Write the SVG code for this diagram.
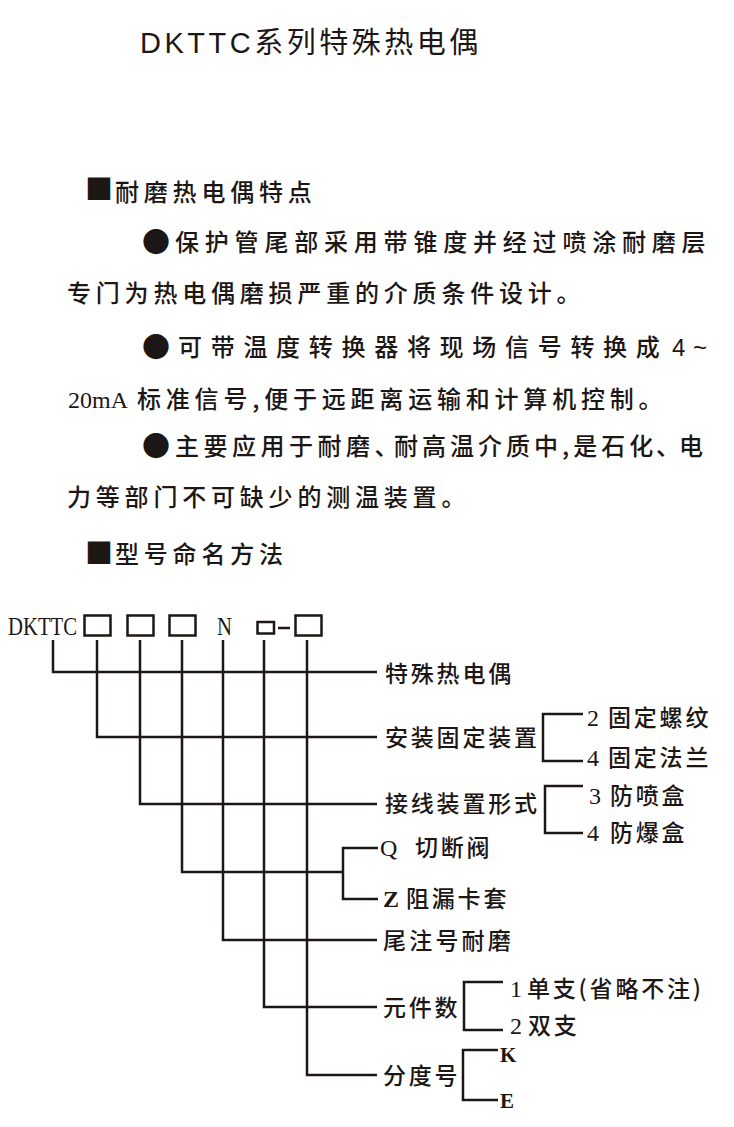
<svg xmlns="http://www.w3.org/2000/svg" width="734" height="1127" viewBox="0 0 734 1127">
<style>
.bg{fill:#ffffff}
.t{fill:#1c1715}
.cjk{font-family:"Noto Sans CJK SC","Noto Sans",sans-serif;font-size:23px;font-weight:500}
.p{font-size:24px}
.par{letter-spacing:4.8px}
.mk{font-size:28px;letter-spacing:0}
.lab{letter-spacing:2.8px}
.ser{font-family:"Liberation Serif","Noto Sans CJK SC",serif;font-size:24px}
.sans{font-family:"Liberation Sans","Noto Sans CJK SC",sans-serif}
.ln{fill:none;stroke:#1c1715;stroke-width:2.5;stroke-linecap:butt;stroke-linejoin:miter}
.box{fill:none;stroke:#1c1715;stroke-width:2.5}
</style>
<rect class="bg" x="0" y="0" width="734" height="1127"/>

<g id="title">
<text class="t sans" x="140" y="53" font-size="29" letter-spacing="3.5">DKTTC系列特殊热电偶</text>
</g>

<g id="features">
<text class="t cjk p"><tspan class="mk" x="85" y="200">■</tspan><tspan class="par" x="115" y="201">耐磨热电偶特点</tspan></text>
<text class="t cjk p"><tspan class="mk" x="142" y="253">●</tspan><tspan x="175" y="251" letter-spacing="5.8">保护管尾部采用带锥度并经过喷涂耐磨层</tspan></text>
<text class="t cjk p par" x="67" y="302">专门为热电偶磨损严重的介质条件设计。</text>
<text class="t cjk p"><tspan class="mk" x="142" y="358">●</tspan><tspan x="178" y="356" letter-spacing="8.7">可带温度转换器将现场信号转换成</tspan><tspan class="sans" x="672" y="356">4</tspan><tspan class="sans" x="693" y="356">~</tspan></text>
<text class="t" x="68" y="408"><tspan class="ser">20mA</tspan><tspan class="cjk p par" x="137">标准信号,便于远距离运输和计算机控制。</tspan></text>
<text class="t cjk p"><tspan class="mk" x="142" y="457">●</tspan><tspan x="175" y="455" letter-spacing="4.5">主要应用于耐磨、</tspan><tspan x="394" y="455" letter-spacing="4">耐高温介质中,是石化</tspan><tspan x="656" y="455">、</tspan><tspan x="679" y="455">电</tspan></text>
<text class="t cjk p par" x="67" y="506">力等部门不可缺少的测温装置。</text>
</g>

<g id="naming-heading">
<text class="t cjk p"><tspan class="mk" x="85" y="564">■</tspan><tspan class="par" x="115" y="563">型号命名方法</tspan></text>
</g>

<g id="model-code">
<text class="t" x="8" y="635" font-family="Liberation Serif, serif" font-size="26" textLength="69" lengthAdjust="spacingAndGlyphs">DKTTC</text>
<rect class="box" x="84.5" y="615.5" width="26" height="20"/>
<rect class="box" x="127.5" y="615.5" width="26" height="20"/>
<rect class="box" x="169.5" y="615.5" width="26" height="20"/>
<text class="t" x="217" y="635" font-family="Liberation Serif, serif" font-size="26" textLength="15" lengthAdjust="spacingAndGlyphs">N</text>
<rect class="box" x="257.5" y="622" width="16.5" height="11.5"/>
<line class="ln" x1="278" y1="628" x2="290" y2="628"/>
<rect class="box" x="295.5" y="615.5" width="26" height="20"/>
</g>

<g id="connectors">
<path class="ln" d="M53 640 V672 H377"/>
<path class="ln" d="M97 640 V737 H377"/>
<path class="ln" d="M140 640 V804 H377"/>
<path class="ln" d="M182 640 V872 H343"/>
<path class="ln" d="M378 848 H343 V899 H378"/>
<path class="ln" d="M223 640 V940 H377"/>
<path class="ln" d="M264 640 V1007 H377"/>
<path class="ln" d="M307 640 V1075 H377"/>
<path class="ln" d="M583 714 H543 V761 H583"/>
<path class="ln" d="M583 786 H545 V833 H583"/>
<path class="ln" d="M503 982 H464 V1030 H503"/>
<path class="ln" d="M498 1050 H463 V1100 H498"/>
</g>

<g id="n-thermocouple"><text class="t cjk lab" x="385" y="682">特殊热电偶</text></g>
<g id="n-mounting"><text class="t cjk lab" x="385" y="746">安装固定装置</text></g>
<g id="n-mount-2"><text class="t"><tspan class="ser" x="587" y="726">2</tspan><tspan class="cjk lab" x="608" y="726">固定螺纹</tspan></text></g>
<g id="n-mount-4"><text class="t"><tspan class="ser" x="587" y="766">4</tspan><tspan class="cjk lab" x="608" y="766">固定法兰</tspan></text></g>
<g id="n-junction"><text class="t cjk lab" x="385" y="812">接线装置形式</text></g>
<g id="n-junction-3"><text class="t"><tspan class="ser" x="589" y="804">3</tspan><tspan class="cjk lab" x="610" y="804">防喷盒</tspan></text></g>
<g id="n-junction-4"><text class="t"><tspan class="ser" x="587" y="841">4</tspan><tspan class="cjk lab" x="610" y="841">防爆盒</tspan></text></g>
<g id="n-q"><text class="t"><tspan class="ser" x="380" y="856">Q</tspan><tspan class="cjk lab" x="415" y="856">切断阀</tspan></text></g>
<g id="n-z"><text class="t"><tspan class="ser" font-weight="bold" x="383" y="907">Z</tspan><tspan class="cjk lab" x="406" y="907">阻漏卡套</tspan></text></g>
<g id="n-suffix"><text class="t cjk" x="383" y="949" letter-spacing="3.2">尾注号耐磨</text></g>
<g id="n-elements"><text class="t cjk lab" x="383" y="1016">元件数</text></g>
<g id="n-elem-1"><text class="t"><tspan class="ser" x="510" y="997">1</tspan><tspan class="cjk lab" x="527" y="997">单支(省略不注)</tspan></text></g>
<g id="n-elem-2"><text class="t"><tspan class="ser" x="510" y="1034">2</tspan><tspan class="cjk lab" x="528" y="1034">双支</tspan></text></g>
<g id="n-graduation"><text class="t cjk lab" x="383" y="1084">分度号</text></g>
<g id="n-k"><text class="t" x="500" y="1062" font-family="Liberation Serif, serif" font-size="21" font-weight="bold">K</text></g>
<g id="n-e"><text class="t" x="500" y="1108" font-family="Liberation Serif, serif" font-size="21" font-weight="bold">E</text></g>
</svg>
